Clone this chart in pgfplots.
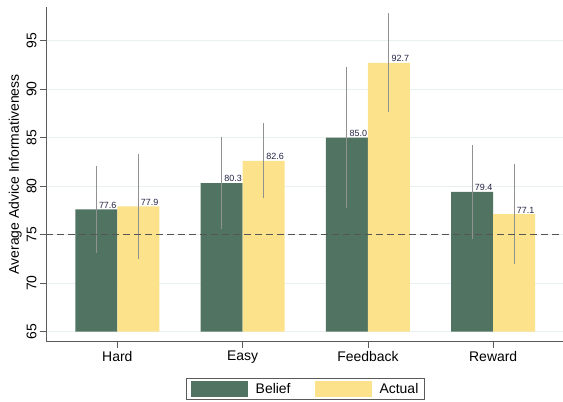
\documentclass[border=0pt]{standalone}
\usepackage{fontspec}
\setmainfont{Liberation Sans}
\usepackage{pgfplots}
\usepackage{pgfplotstable}
\pgfplotsset{compat=1.18}
\definecolor{belief}{RGB}{80,116,97}
\definecolor{actual}{RGB}{251,226,139}
\definecolor{gridc}{RGB}{232,240,240}
\definecolor{errc}{RGB}{145,145,145}
\definecolor{lblc}{RGB}{35,35,70}
\definecolor{axc}{RGB}{90,90,90}
\definecolor{dashc}{RGB}{85,85,85}

\pgfplotstableread{
x y err
0 77.6 4.2
1 80.3 4.5
2 85.0 7.0
3 79.4 4.55
}\belieftab
\pgfplotstableread{
x y err
0 77.9 5.1
1 82.6 3.6
2 92.7 4.85
3 77.1 4.9
}\actualtab

\begin{document}
\begin{tikzpicture}
\begin{axis}[
  scale only axis, width=517bp, height=334.7bp,
  xmin=-0.569, xmax=3.557, ymin=63.97, ymax=98.45,
  y coord trafo/.code={\pgfmathparse{#1-65}},
  y coord inv trafo/.code={\pgfmathparse{#1+65}},
  axis x line=bottom, axis y line=left,
  axis line style={-, axc, line width=0.8bp},
  tick style={axc, line width=0.8bp},
  tick align=outside, major tick length=6bp,
  xtick={0,1,2,3}, xticklabels={Hard,Easy,Feedback,Reward},
  ytick={65,70,75,80,85,90,95},
  ymajorgrids, grid style={gridc, line width=0.8bp},
  /pgf/number format/assume math mode=true,
  tick label style={font=\fontsize{14}{16}\selectfont},
  yticklabel style={rotate=90, anchor=south},
  ylabel={Average Advice Informativeness},
  ylabel style={font=\fontsize{14}{16}\selectfont, yshift=-2bp},
  legend columns=2,
  legend style={at={(0.502,-0.108)}, anchor=north, draw=axc, line width=0.8bp,
    font=\fontsize{14}{16}\selectfont, inner xsep=4.5bp, inner ysep=2.5bp,
    /tikz/every even column/.append style={column sep=22bp}},
  legend image code/.code={\fill[#1,draw=none] (0bp,-8bp) rectangle (57bp,8bp); \path (63bp,0bp);},
  nodes near coords={\pgfmathprintnumber[fixed,fixed zerofill,precision=1]{\pgfplotspointmeta}},
  every node near coord/.append style={font=\fontsize{9}{10}\selectfont, text=lblc, anchor=south west, inner sep=1bp, xshift=1.5bp},
]
\coordinate (O) at (rel axis cs:0,0);
\addplot[ybar, bar width=0.335, bar shift=0, fill=belief, draw=none,
  point meta=explicit,
  error bars/y dir=both, error bars/y explicit,
  error bars/error mark=-, error bars/error mark options={errc, mark size=2.6bp, line width=1bp},
  error bars/error bar style={errc, line width=1bp}]
  table[x expr=\thisrow{x}-0.1675, y=y, y error=err, meta=y] {\belieftab};
\addlegendentry{Belief}
\addplot[ybar, bar width=0.335, bar shift=0, fill=actual, draw=none,
  point meta=explicit,
  error bars/y dir=both, error bars/y explicit,
  error bars/error mark=-, error bars/error mark options={errc, mark size=2.6bp, line width=1bp},
  error bars/error bar style={errc, line width=1bp}]
  table[x expr=\thisrow{x}+0.1675, y=y, y error=err, meta=y] {\actualtab};
\addlegendentry{Actual\hspace{5bp}}
\addplot[forget plot, dashc, line width=1.3bp, dash pattern=on 7bp off 4bp, nodes near coords={}] coordinates {(-0.569,75) (3.557,75)};
\end{axis}
\pgfresetboundingbox
\path ([shift={(-46bp,-60.3bp)}]O) rectangle ++(563bp,402bp);
\end{tikzpicture}
\end{document}
